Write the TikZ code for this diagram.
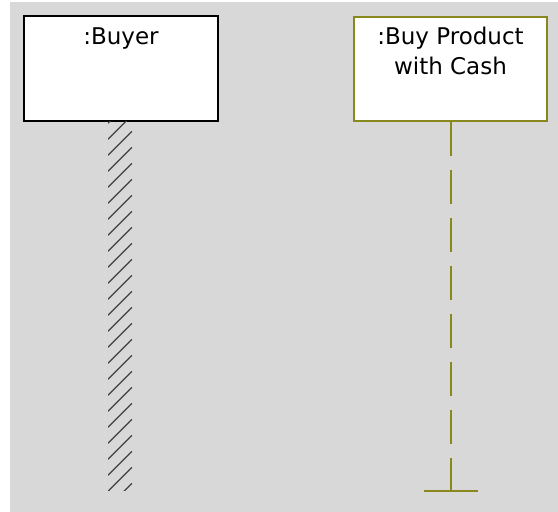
\documentclass[tikz,border=0pt]{standalone}
\usepackage{fontspec}
\setmainfont{DejaVu Sans}
\begin{document}
\begin{tikzpicture}[x=1pt,y=-1pt,
  objbox/.style={draw, fill=white, line width=1.6pt, inner sep=0pt},
  objlabel/.style={anchor=base, inner sep=0pt, font=\fontsize{23}{28}\selectfont},
  hatchline/.style={draw=black!75, line width=1.2pt},
  lifeline/.style={draw=olivebox, line width=2pt, dash pattern=on 34pt off 14pt},
  stopbar/.style={draw=olivebox, line width=2pt}]
\definecolor{olivebox}{RGB}{136,136,30}
\definecolor{canvas}{RGB}{216,216,216}
\useasboundingbox (0,0) rectangle (558,512);
\fill[canvas] (10,2) rectangle (558,512);

% object boxes
\node[objbox, draw=black, minimum width=194pt, minimum height=105pt] (buyer) at (121,68.5) {};
\node[objbox, draw=olivebox, minimum width=193pt, minimum height=104pt] (buy) at (450.5,69) {};

\node[objlabel] (buyerlabel) at (121,44) {:Buyer};
\node[objlabel] (buylabelA) at (450.5,44) {:Buy Product};
\node[objlabel] (buylabelB) at (450.5,74) {with Cash};

% hatched activation strip under the buyer
\begin{scope}
  \clip (108,121) rectangle (132,490);
  \foreach \k in {-1,...,24}
    \draw[hatchline] (108,139.3+16*\k) -- ++(24,-24);
\end{scope}

% lifeline ending in a stop bar
\coordinate (lifeend) at (450.5,491);
\draw[lifeline] (buy.south) -- (lifeend);
\draw[stopbar] ([xshift=-27pt]lifeend) -- ([xshift=27pt]lifeend);
\end{tikzpicture}
\end{document}
